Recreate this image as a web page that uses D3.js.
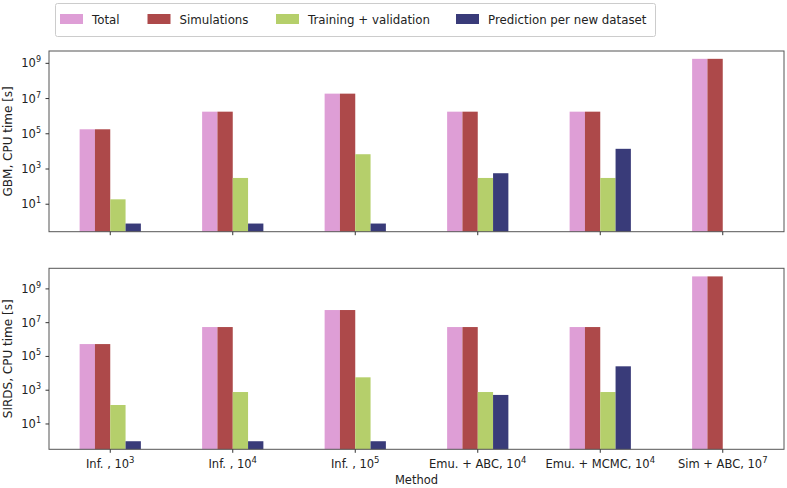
<!DOCTYPE html>
<html>
<head>
<meta charset="utf-8">
<script src="https://cdn.jsdelivr.net/npm/d3@7"></script>
<style>
  body { margin: 0; background: #fff; }
  text { font-family: "DejaVu Sans", sans-serif; fill: #222; }
</style>
</head>
<body>
<div id="chart"></div>
<script>
// categories and series
var methods = ["Inf. , 10|3", "Inf. , 10|4", "Inf. , 10|5", "Emu. + ABC, 10|4", "Emu. + MCMC, 10|4", "Sim + ABC, 10|7"];
var seriesNames = ["Total", "Simulations", "Training + validation", "Prediction per new dataset"];
var seriesColors = ["#de9ed6", "#ad494a", "#b5cf6b", "#393b79"];

var gbmTotal = [1.8e5, 1.8e6, 1.9e7, 1.8e6, 1.8e6, 1.8e9];
var gbmSim = [1.8e5, 1.8e6, 1.9e7, 1.8e6, 1.8e6, 1.8e9];
var gbmTrain = [19, 310, 6900, 310, 310, null];
var gbmPred = [0.8, 0.8, 0.8, 575, 1.4e4, null];

var sirdsTotal = [5.4e5, 5.5e6, 5.6e7, 5.5e6, 5.5e6, 5.5e9];
var sirdsSim = [5.4e5, 5.5e6, 5.6e7, 5.5e6, 5.5e6, 5.5e9];
var sirdsTrain = [133, 780, 5800, 780, 780, null];
var sirdsPred = [0.95, 0.95, 0.95, 525, 2.6e4, null];

var yTicks = [1e1, 1e3, 1e5, 1e7, 1e9];

var svgWidth = 787, svgHeight = 488;
var svg = d3.select("#chart").append("svg")
  .attr("width", svgWidth)
  .attr("height", svgHeight);

var x = d3.scaleBand()
  .domain(d3.range(methods.length))
  .range([49, 784])
  .padding(0);
var bw = x.bandwidth() * 0.5 / 4;

var panels = [
  { label: "GBM, CPU time [s]", series: [gbmTotal, gbmSim, gbmTrain, gbmPred],
    top: 51, bottom: 231.7, domain: [Math.pow(10, -0.56), Math.pow(10, 9.7)], showX: false },
  { label: "SIRDS, CPU time [s]", series: [sirdsTotal, sirdsSim, sirdsTrain, sirdsPred],
    top: 268.3, bottom: 449.3, domain: [Math.pow(10, -0.5), Math.pow(10, 10.22)], showX: true }
];

function supLabel(sel, base, exp, sz) {
  sel.append("tspan").text(base);
  sel.append("tspan").attr("dy", -5).attr("font-size", sz).text(exp);
}

panels.forEach(function(p) {
  var y = d3.scaleLog().domain(p.domain).range([p.bottom, p.top]);
  var g = svg.append("g");

  // bars
  p.series.forEach(function(vals, si) {
    g.selectAll(null)
      .data(vals.map(function(v, i) { return { i: i, v: v }; }).filter(function(d) { return d.v != null; }))
      .enter()
      .append("rect")
      .attr("x", function(d) { return x(d.i) + x.bandwidth() / 2 - 2 * bw + si * bw; })
      .attr("y", function(d) { return y(d.v); })
      .attr("width", bw)
      .attr("height", function(d) { return p.bottom - y(d.v); })
      .attr("fill", seriesColors[si]);
  });

  // frame
  g.append("rect")
    .attr("x", 49).attr("y", p.top)
    .attr("width", 784 - 49).attr("height", p.bottom - p.top)
    .attr("fill", "none").attr("stroke", "#555").attr("stroke-width", 1);

  // y axis ticks
  yTicks.forEach(function(t) {
    var yy = y(t);
    g.append("line").attr("x1", 45.5).attr("x2", 49).attr("y1", yy).attr("y2", yy)
      .attr("stroke", "#333");
    var tx = g.append("text").attr("x", 41).attr("y", yy + 4)
      .attr("text-anchor", "end")
      .attr("font-size", 11.5);
    supLabel(tx, "10", Math.round(Math.log10(t)), 8);
  });

  // x ticks
  methods.forEach(function(m, i) {
    var cx = x(i) + x.bandwidth() / 2;
    g.append("line").attr("x1", cx).attr("x2", cx).attr("y1", p.bottom).attr("y2", p.bottom + 3.5)
      .attr("stroke", "#333");
    if (p.showX) {
      var parts = m.split("|");
      var tx = g.append("text").attr("x", cx).attr("y", p.bottom + 19)
        .attr("text-anchor", "middle").attr("font-size", 11.5);
      supLabel(tx, parts[0], parts[1], 8.5);
    }
  });

  // y label
  g.append("text")
    .attr("transform", "translate(12," + ((p.top + p.bottom) / 2) + ") rotate(-90)")
    .attr("text-anchor", "middle")
    .attr("font-size", 12)
    .text(p.label);
});

// x axis title
svg.append("text")
  .attr("x", (49 + 784) / 2).attr("y", 484)
  .attr("text-anchor", "middle").attr("font-size", 11.5)
  .text("Method");

// legend
var legend = svg.append("g");
legend.append("rect")
  .attr("x", 55.5).attr("y", 3.5).attr("width", 600).attr("height", 33)
  .attr("rx", 2).attr("fill", "#fff").attr("stroke", "#ccc");
var legendX = [60, 147.5, 276, 456];
seriesNames.forEach(function(n, i) {
  legend.append("rect")
    .attr("x", legendX[i]).attr("y", 14).attr("width", 23).attr("height", 10)
    .attr("fill", seriesColors[i]);
  legend.append("text")
    .attr("x", legendX[i] + 32).attr("y", 23.5)
    .attr("font-size", 11.8)
    .text(n);
});
</script>
</body>
</html>
